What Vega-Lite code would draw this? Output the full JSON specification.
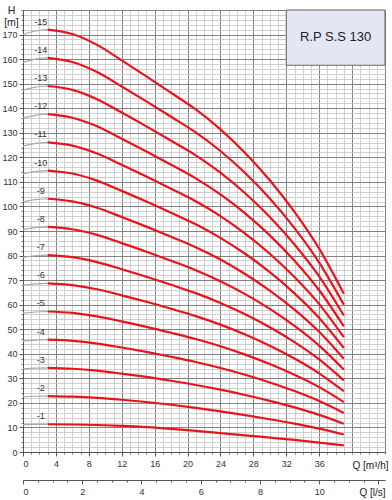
{
  "$schema": "https://vega.github.io/schema/vega-lite/v6.json",
  "autosize": "none",
  "width": 362,
  "height": 442,
  "padding": {"left": 23, "top": 10, "right": 7, "bottom": 48},
  "background": "white",
  "config": {
    "view": {"stroke": null},
    "font": "Liberation Sans",
    "axis": {"labelFont": "Liberation Sans", "titleFont": "Liberation Sans", "labelColor": "#333", "titleColor": "#222", "domainColor": "#555", "tickColor": "#555"}
  },
  "datasets": {
    "box": [{"x1": 32, "x2": 44, "y1": 157.5, "y2": 180, "xm": 38, "ym": 169, "title": "R.P S.S 130", "ls": 0}],
    "stubs": [
      {"s":1,"Q":0,"H":11.15},{"s":1,"Q":1.5,"H":11.26},{"s":1,"Q":3,"H":11.30},
      {"s":2,"Q":0,"H":22.50},{"s":2,"Q":1.5,"H":22.70},{"s":2,"Q":3,"H":22.78},
      {"s":3,"Q":0,"H":33.84},{"s":3,"Q":1.5,"H":34.14},{"s":3,"Q":3,"H":34.26},
      {"s":4,"Q":0,"H":45.19},{"s":4,"Q":1.5,"H":45.58},{"s":4,"Q":3,"H":45.74},
      {"s":5,"Q":0,"H":56.53},{"s":5,"Q":1.5,"H":57.02},{"s":5,"Q":3,"H":57.22},
      {"s":6,"Q":0,"H":67.88},{"s":6,"Q":1.5,"H":68.47},{"s":6,"Q":3,"H":68.70},
      {"s":7,"Q":0,"H":79.23},{"s":7,"Q":1.5,"H":79.91},{"s":7,"Q":3,"H":80.17},
      {"s":8,"Q":0,"H":90.57},{"s":8,"Q":1.5,"H":91.35},{"s":8,"Q":3,"H":91.65},
      {"s":9,"Q":0,"H":101.92},{"s":9,"Q":1.5,"H":102.79},{"s":9,"Q":3,"H":103.13},
      {"s":10,"Q":0,"H":113.26},{"s":10,"Q":1.5,"H":114.23},{"s":10,"Q":3,"H":114.61},
      {"s":11,"Q":0,"H":124.61},{"s":11,"Q":1.5,"H":125.67},{"s":11,"Q":3,"H":126.09},
      {"s":12,"Q":0,"H":135.96},{"s":12,"Q":1.5,"H":137.12},{"s":12,"Q":3,"H":137.57},
      {"s":13,"Q":0,"H":147.30},{"s":13,"Q":1.5,"H":148.56},{"s":13,"Q":3,"H":149.05},
      {"s":14,"Q":0,"H":158.65},{"s":14,"Q":1.5,"H":160.00},{"s":14,"Q":3,"H":160.53},
      {"s":15,"Q":0,"H":170.00},{"s":15,"Q":1.5,"H":171.44},{"s":15,"Q":3,"H":172.00}
    ],
    "labels": [
      {"label":"-1","Q":3,"H":11.30},{"label":"-2","Q":3,"H":22.78},{"label":"-3","Q":3,"H":34.26},
      {"label":"-4","Q":3,"H":45.74},{"label":"-5","Q":3,"H":57.22},{"label":"-6","Q":3,"H":68.70},
      {"label":"-7","Q":3,"H":80.17},{"label":"-8","Q":3,"H":91.65},{"label":"-9","Q":3,"H":103.13},
      {"label":"-10","Q":3,"H":114.61},{"label":"-11","Q":3,"H":126.09},{"label":"-12","Q":3,"H":137.57},
      {"label":"-13","Q":3,"H":149.05},{"label":"-14","Q":3,"H":160.53},{"label":"-15","Q":3,"H":172.00}
    ],
    "curves": [
      {"s":1,"Q":3,"H":11.30},{"s":1,"Q":6,"H":11.20},{"s":1,"Q":9,"H":11.00},{"s":1,"Q":12,"H":10.65},{"s":1,"Q":15,"H":10.15},{"s":1,"Q":18,"H":9.45},{"s":1,"Q":21,"H":8.60},{"s":1,"Q":24,"H":7.70},{"s":1,"Q":27,"H":6.80},{"s":1,"Q":30,"H":5.85},{"s":1,"Q":33,"H":4.90},{"s":1,"Q":36,"H":3.85},{"s":1,"Q":39,"H":2.70},
      {"s":2,"Q":3,"H":22.78},{"s":2,"Q":6,"H":22.56},{"s":2,"Q":9,"H":22.06},{"s":2,"Q":12,"H":21.28},{"s":2,"Q":15,"H":20.35},{"s":2,"Q":18,"H":19.23},{"s":2,"Q":21,"H":17.95},{"s":2,"Q":24,"H":16.54},{"s":2,"Q":27,"H":15.01},{"s":2,"Q":30,"H":13.34},{"s":2,"Q":33,"H":11.54},{"s":2,"Q":36,"H":9.49},{"s":2,"Q":39,"H":7.11},
      {"s":3,"Q":3,"H":34.26},{"s":3,"Q":6,"H":33.91},{"s":3,"Q":9,"H":33.11},{"s":3,"Q":12,"H":31.91},{"s":3,"Q":15,"H":30.56},{"s":3,"Q":18,"H":29.00},{"s":3,"Q":21,"H":27.30},{"s":3,"Q":24,"H":25.37},{"s":3,"Q":27,"H":23.23},{"s":3,"Q":30,"H":20.83},{"s":3,"Q":33,"H":18.17},{"s":3,"Q":36,"H":15.13},{"s":3,"Q":39,"H":11.51},
      {"s":4,"Q":3,"H":45.74},{"s":4,"Q":6,"H":45.27},{"s":4,"Q":9,"H":44.17},{"s":4,"Q":12,"H":42.55},{"s":4,"Q":15,"H":40.76},{"s":4,"Q":18,"H":38.78},{"s":4,"Q":21,"H":36.65},{"s":4,"Q":24,"H":34.21},{"s":4,"Q":27,"H":31.44},{"s":4,"Q":30,"H":28.32},{"s":4,"Q":33,"H":24.81},{"s":4,"Q":36,"H":20.77},{"s":4,"Q":39,"H":15.92},
      {"s":5,"Q":3,"H":57.22},{"s":5,"Q":6,"H":56.63},{"s":5,"Q":9,"H":55.23},{"s":5,"Q":12,"H":53.18},{"s":5,"Q":15,"H":50.97},{"s":5,"Q":18,"H":48.55},{"s":5,"Q":21,"H":46.00},{"s":5,"Q":24,"H":43.04},{"s":5,"Q":27,"H":39.66},{"s":5,"Q":30,"H":35.81},{"s":5,"Q":33,"H":31.44},{"s":5,"Q":36,"H":26.41},{"s":5,"Q":39,"H":20.33},
      {"s":6,"Q":3,"H":68.70},{"s":6,"Q":6,"H":67.98},{"s":6,"Q":9,"H":66.28},{"s":6,"Q":12,"H":63.81},{"s":6,"Q":15,"H":61.17},{"s":6,"Q":18,"H":58.33},{"s":6,"Q":21,"H":55.35},{"s":6,"Q":24,"H":51.88},{"s":6,"Q":27,"H":47.87},{"s":6,"Q":30,"H":43.30},{"s":6,"Q":33,"H":38.08},{"s":6,"Q":36,"H":32.05},{"s":6,"Q":39,"H":24.73},
      {"s":7,"Q":3,"H":80.17},{"s":7,"Q":6,"H":79.34},{"s":7,"Q":9,"H":77.34},{"s":7,"Q":12,"H":74.44},{"s":7,"Q":15,"H":71.37},{"s":7,"Q":18,"H":68.10},{"s":7,"Q":21,"H":64.70},{"s":7,"Q":24,"H":60.72},{"s":7,"Q":27,"H":56.09},{"s":7,"Q":30,"H":50.79},{"s":7,"Q":33,"H":44.72},{"s":7,"Q":36,"H":37.69},{"s":7,"Q":39,"H":29.14},
      {"s":8,"Q":3,"H":91.65},{"s":8,"Q":6,"H":90.70},{"s":8,"Q":9,"H":88.40},{"s":8,"Q":12,"H":85.07},{"s":8,"Q":15,"H":81.58},{"s":8,"Q":18,"H":77.88},{"s":8,"Q":21,"H":74.05},{"s":8,"Q":24,"H":69.55},{"s":8,"Q":27,"H":64.30},{"s":8,"Q":30,"H":58.27},{"s":8,"Q":33,"H":51.35},{"s":8,"Q":36,"H":43.33},{"s":8,"Q":39,"H":33.55},
      {"s":9,"Q":3,"H":103.13},{"s":9,"Q":6,"H":102.06},{"s":9,"Q":9,"H":99.46},{"s":9,"Q":12,"H":95.71},{"s":9,"Q":15,"H":91.78},{"s":9,"Q":18,"H":87.65},{"s":9,"Q":21,"H":83.40},{"s":9,"Q":24,"H":78.39},{"s":9,"Q":27,"H":72.51},{"s":9,"Q":30,"H":65.76},{"s":9,"Q":33,"H":57.99},{"s":9,"Q":36,"H":48.96},{"s":9,"Q":39,"H":37.96},
      {"s":10,"Q":3,"H":114.61},{"s":10,"Q":6,"H":113.41},{"s":10,"Q":9,"H":110.51},{"s":10,"Q":12,"H":106.34},{"s":10,"Q":15,"H":101.99},{"s":10,"Q":18,"H":97.43},{"s":10,"Q":21,"H":92.75},{"s":10,"Q":24,"H":87.22},{"s":10,"Q":27,"H":80.73},{"s":10,"Q":30,"H":73.25},{"s":10,"Q":33,"H":64.62},{"s":10,"Q":36,"H":54.60},{"s":10,"Q":39,"H":42.36},
      {"s":11,"Q":3,"H":126.09},{"s":11,"Q":6,"H":124.77},{"s":11,"Q":9,"H":121.57},{"s":11,"Q":12,"H":116.97},{"s":11,"Q":15,"H":112.19},{"s":11,"Q":18,"H":107.20},{"s":11,"Q":21,"H":102.10},{"s":11,"Q":24,"H":96.06},{"s":11,"Q":27,"H":88.94},{"s":11,"Q":30,"H":80.74},{"s":11,"Q":33,"H":71.26},{"s":11,"Q":36,"H":60.24},{"s":11,"Q":39,"H":46.77},
      {"s":12,"Q":3,"H":137.57},{"s":12,"Q":6,"H":136.13},{"s":12,"Q":9,"H":132.63},{"s":12,"Q":12,"H":127.60},{"s":12,"Q":15,"H":122.39},{"s":12,"Q":18,"H":116.98},{"s":12,"Q":21,"H":111.45},{"s":12,"Q":24,"H":104.89},{"s":12,"Q":27,"H":97.16},{"s":12,"Q":30,"H":88.23},{"s":12,"Q":33,"H":77.90},{"s":12,"Q":36,"H":65.88},{"s":12,"Q":39,"H":51.18},
      {"s":13,"Q":3,"H":149.05},{"s":13,"Q":6,"H":147.48},{"s":13,"Q":9,"H":143.68},{"s":13,"Q":12,"H":138.23},{"s":13,"Q":15,"H":132.60},{"s":13,"Q":18,"H":126.75},{"s":13,"Q":21,"H":120.80},{"s":13,"Q":24,"H":113.73},{"s":13,"Q":27,"H":105.37},{"s":13,"Q":30,"H":95.72},{"s":13,"Q":33,"H":84.53},{"s":13,"Q":36,"H":71.52},{"s":13,"Q":39,"H":55.58},
      {"s":14,"Q":3,"H":160.53},{"s":14,"Q":6,"H":158.84},{"s":14,"Q":9,"H":154.74},{"s":14,"Q":12,"H":148.87},{"s":14,"Q":15,"H":142.80},{"s":14,"Q":18,"H":136.53},{"s":14,"Q":21,"H":130.15},{"s":14,"Q":24,"H":122.57},{"s":14,"Q":27,"H":113.59},{"s":14,"Q":30,"H":103.21},{"s":14,"Q":33,"H":91.17},{"s":14,"Q":36,"H":77.16},{"s":14,"Q":39,"H":59.99},
      {"s":15,"Q":3,"H":172.00},{"s":15,"Q":6,"H":170.20},{"s":15,"Q":9,"H":165.80},{"s":15,"Q":12,"H":159.50},{"s":15,"Q":15,"H":153.00},{"s":15,"Q":18,"H":146.30},{"s":15,"Q":21,"H":139.50},{"s":15,"Q":24,"H":131.40},{"s":15,"Q":27,"H":121.80},{"s":15,"Q":30,"H":110.70},{"s":15,"Q":33,"H":97.80},{"s":15,"Q":36,"H":82.80},{"s":15,"Q":39,"H":64.40}
    ]
  },
  "resolve": {"scale": {"x": "independent"}, "axis": {"x": "independent", "y": "independent"}},
  "layer": [
    {
      "data": {"name": "box"},
      "mark": {"type": "point", "opacity": 0},
      "encoding": {
        "x": {"field": "x1", "type": "quantitative", "scale": {"domain": [0, 44], "nice": false, "zero": false},
              "axis": {"orient": "bottom", "values": [0,1,2,3,4,5,6,7,8,9,10,11,12,13,14,15,16,17,18,19,20,21,22,23,24,25,26,27,28,29,30,31,32,33,34,35,36,37,38,39,40,41,42,43,44], "grid": true, "gridColor": "#c4c4c4", "gridWidth": 0.8, "labels": false, "ticks": true, "tickSize": 2, "tickColor": "#777", "domain": false, "title": null}},
        "y": {"field": "y1", "type": "quantitative", "scale": {"domain": [0, 180], "nice": false, "zero": false},
              "axis": {"orient": "left", "values": [0,2,4,6,8,10,12,14,16,18,20,22,24,26,28,30,32,34,36,38,40,42,44,46,48,50,52,54,56,58,60,62,64,66,68,70,72,74,76,78,80,82,84,86,88,90,92,94,96,98,100,102,104,106,108,110,112,114,116,118,120,122,124,126,128,130,132,134,136,138,140,142,144,146,148,150,152,154,156,158,160,162,164,166,168,170,172,174,176,178,180], "grid": true, "gridColor": "#c4c4c4", "gridWidth": 0.8, "labels": false, "ticks": true, "tickSize": 2, "tickColor": "#777", "domain": false, "title": null}}
      }
    },
    {
      "data": {"name": "box"},
      "mark": {"type": "point", "opacity": 0},
      "encoding": {
        "x": {"field": "x1", "type": "quantitative", "scale": {"domain": [0, 44], "nice": false, "zero": false},
              "axis": {"orient": "bottom", "values": [0,4,8,12,16,20,24,28,32,36,40,44], "grid": true, "gridColor": "#7a7a7a", "gridWidth": 0.9, "labels": false, "ticks": false, "domain": false, "title": null}},
        "y": {"field": "y1", "type": "quantitative", "scale": {"domain": [0, 180], "nice": false, "zero": false},
              "axis": {"orient": "left", "values": [0,10,20,30,40,50,60,70,80,90,100,110,120,130,140,150,160,170,180], "grid": true, "gridColor": "#7a7a7a", "gridWidth": 0.9, "labels": false, "ticks": false, "domain": false, "title": null}}
      }
    },
    {
      "data": {"name": "box"},
      "mark": {"type": "point", "opacity": 0},
      "encoding": {
        "x": {"field": "x1", "type": "quantitative", "scale": {"domain": [0, 44], "nice": false, "zero": false},
              "axis": {"orient": "bottom", "values": [0,4,8,12,16,20,24,28,32,36], "grid": false, "ticks": true, "tickSize": 4, "labelFontSize": 9, "labelPadding": 3, "domain": true, "domainWidth": 1,
                       "title": "Q [m³/h]", "titleFontSize": 10, "titleFontWeight": "normal", "titleAlign": "center", "titleBaseline": "middle", "titleX": 347, "titleY": 13}},
        "y": {"field": "y1", "type": "quantitative", "scale": {"domain": [0, 180], "nice": false, "zero": false},
              "axis": {"orient": "left", "values": [0,10,20,30,40,50,60,70,80,90,100,110,120,130,140,150,160,170], "grid": false, "ticks": true, "tickSize": 4, "labelFontSize": 9, "labelPadding": 2, "domain": true, "domainWidth": 1,
                       "title": ["H", "[m]"], "titleFontSize": 10.5, "titleFontWeight": "normal", "titleAngle": 0, "titleAlign": "center", "titleBaseline": "middle", "titleX": -12, "titleY": 0, "titleLineHeight": 12}}
      }
    },
    {
      "data": {"name": "box"},
      "mark": {"type": "point", "opacity": 0},
      "encoding": {
        "x": {"field": "ls", "type": "quantitative", "scale": {"domain": [0, 12.2222], "nice": false, "zero": false},
              "axis": {"orient": "bottom", "offset": 28, "values": [0,2,4,6,8,10,12], "labelExpr": "datum.value == 12 ? '' : datum.label", "grid": false, "ticks": true, "tickSize": 4, "labelFontSize": 9, "labelPadding": 3, "domain": true, "domainWidth": 1,
                       "title": "Q [l/s]", "titleFontSize": 10, "titleFontWeight": "normal", "titleAlign": "center", "titleBaseline": "middle", "titleX": 349, "titleY": 12}}
      }
    },
    {
      "data": {"name": "box"},
      "mark": {"type": "point", "opacity": 0},
      "encoding": {
        "x": {"field": "ls", "type": "quantitative", "scale": {"domain": [0, 12.2222], "nice": false, "zero": false},
              "axis": {"orient": "bottom", "offset": 28, "values": [0,0.5,1,1.5,2,2.5,3,3.5,4,4.5,5,5.5,6,6.5,7,7.5,8,8.5,9,9.5,10,10.5,11,11.5,12], "labels": false, "grid": false, "ticks": true, "tickSize": 2, "domain": false, "title": null}}
      }
    },
    {
      "data": {"name": "box"},
      "mark": {"type": "rect", "fill": "#e3e6f3", "stroke": "#666", "strokeWidth": 1},
      "encoding": {
        "x": {"field": "x1", "type": "quantitative", "scale": {"domain": [0, 44], "nice": false, "zero": false}, "axis": null},
        "x2": {"field": "x2"},
        "y": {"field": "y1", "type": "quantitative", "axis": null},
        "y2": {"field": "y2"}
      }
    },
    {
      "data": {"name": "box"},
      "mark": {"type": "text", "font": "Liberation Sans Narrow, Liberation Sans", "fontSize": 13, "color": "#222", "align": "center", "baseline": "middle"},
      "encoding": {
        "x": {"field": "xm", "type": "quantitative", "scale": {"domain": [0, 44], "nice": false, "zero": false}, "axis": null},
        "y": {"field": "ym", "type": "quantitative", "axis": null},
        "text": {"field": "title"}
      }
    },
    {
      "data": {"name": "stubs"},
      "mark": {"type": "line", "color": "#a8a8a8", "strokeWidth": 1.2, "interpolate": "monotone"},
      "encoding": {
        "x": {"field": "Q", "type": "quantitative", "scale": {"domain": [0, 44], "nice": false, "zero": false}, "axis": null},
        "y": {"field": "H", "type": "quantitative", "axis": null},
        "detail": {"field": "s"}
      }
    },
    {
      "data": {"name": "curves"},
      "mark": {"type": "line", "color": "#e8141c", "strokeWidth": 2.2, "interpolate": "monotone"},
      "encoding": {
        "x": {"field": "Q", "type": "quantitative", "scale": {"domain": [0, 44], "nice": false, "zero": false}, "axis": null},
        "y": {"field": "H", "type": "quantitative", "axis": null},
        "detail": {"field": "s"}
      }
    },
    {
      "data": {"name": "labels"},
      "mark": {"type": "text", "fontSize": 9, "color": "#333", "align": "center", "baseline": "middle", "dx": -7, "dy": -8},
      "encoding": {
        "x": {"field": "Q", "type": "quantitative", "scale": {"domain": [0, 44], "nice": false, "zero": false}, "axis": null},
        "y": {"field": "H", "type": "quantitative", "axis": null},
        "text": {"field": "label"}
      }
    }
  ]
}
